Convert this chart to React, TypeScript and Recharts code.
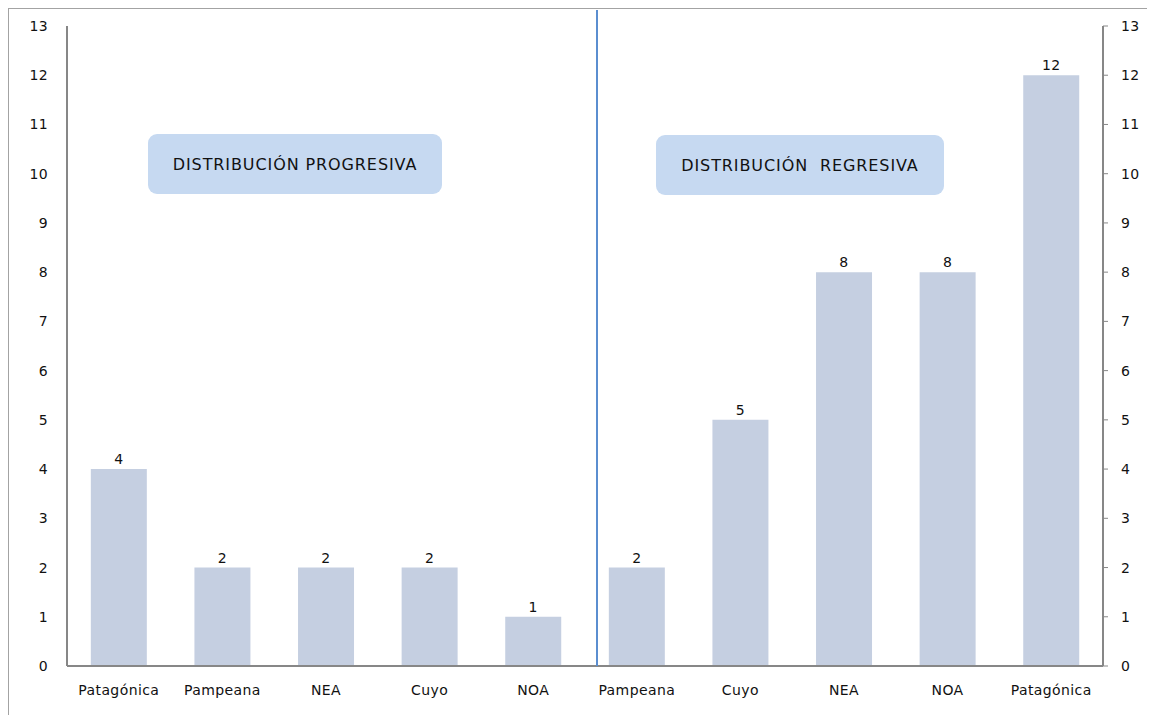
import { BarChart, Bar, Line, XAxis, YAxis, LabelList, ComposedChart } from "recharts";

const regions = ["Patagónica", "Pampeana", "NEA", "Cuyo", "NOA", "Pampeana", "Cuyo", "NEA", "NOA", "Patagónica"];
const counts = [4, 2, 2, 2, 1, 2, 5, 8, 8, 12];
const yTicks = [0, 1, 2, 3, 4, 5, 6, 7, 8, 9, 10, 11, 12, 13];

const data = regions.map((name, i) => ({ key: `${name}-${i}`, name, value: counts[i] }));

const font = "'DejaVu Sans', 'Noto Sans', sans-serif";
const axisGray = "#878787";
const tickText = { fill: "#111", fontSize: 14, fontFamily: font, letterSpacing: 0.4 };

const boxStyle: React.CSSProperties = {
  position: "absolute",
  background: "#c6d9f1",
  borderRadius: 9,
  display: "flex",
  alignItems: "center",
  justifyContent: "center",
  fontFamily: font,
  fontSize: 16,
  letterSpacing: 0.9,
  color: "#111",
  whiteSpace: "pre",
};

export default function App() {
  return (
    <div
      style={{
        position: "relative",
        width: 1160,
        height: 720,
        border: "1px solid #a3a3a3",
        background: "#fff",
        fontFamily: font,
      }}
    >
      <ComposedChart
        width={1146}
        height={707}
        data={data}
        margin={{ top: 17, right: 0, bottom: 20, left: 0 }}
        barCategoryGap="23%"
      >
        <XAxis
          dataKey="key"
          tickFormatter={(_, i) => regions[i]}
          interval={0}
          height={30}
          tickLine={false}
          tickSize={6}
          tickMargin={13}
          axisLine={{ stroke: axisGray, strokeWidth: 2 }}
          tick={tickText}
        />
        <YAxis
          yAxisId="left"
          orientation="left"
          width={58}
          domain={[0, 13]}
          ticks={yTicks}
          interval={0}
          tickLine={false}
          tickSize={6}
          tickMargin={13}
          axisLine={{ stroke: axisGray, strokeWidth: 2 }}
          tick={tickText}
        />
        <YAxis
          yAxisId="right"
          orientation="right"
          width={52}
          domain={[0, 13]}
          ticks={yTicks}
          interval={0}
          tickSize={5}
          tickMargin={13}
          tickLine={{ stroke: axisGray }}
          axisLine={{ stroke: axisGray, strokeWidth: 2 }}
          tick={tickText}
        />
        <Bar yAxisId="left" dataKey="value" fill="#c5cfe1" isAnimationActive={false}>
          <LabelList dataKey="value" position="top" offset={5} style={tickText} />
        </Bar>
        {/* invisible series so the right-hand axis gets its ticks */}
        <Line
          yAxisId="right"
          dataKey="value"
          stroke="none"
          dot={false}
          activeDot={false}
          legendType="none"
          isAnimationActive={false}
        />
      </ComposedChart>

      {/* divider between the two groups */}
      <div
        style={{
          position: "absolute",
          left: 587,
          top: 1,
          width: 2,
          height: 656,
          background: "#5b8ed0",
        }}
      />

      <div style={{ ...boxStyle, left: 139, top: 125, width: 294, height: 60 }}>
        DISTRIBUCIÓN PROGRESIVA
      </div>
      <div style={{ ...boxStyle, left: 647, top: 126, width: 288, height: 60 }}>
        {"DISTRIBUCIÓN  REGRESIVA"}
      </div>
    </div>
  );
}
